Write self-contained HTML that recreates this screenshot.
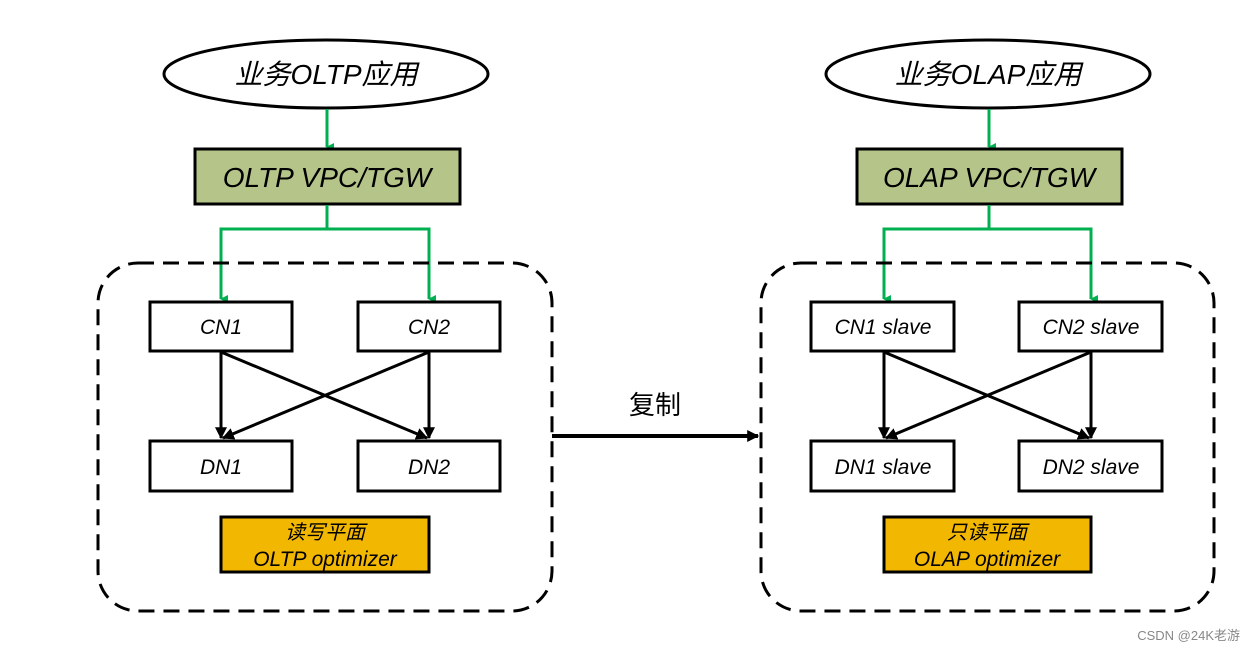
<!DOCTYPE html>
<html><head><meta charset="utf-8"><style>
html,body{margin:0;padding:0;background:#fff;width:1256px;height:651px;overflow:hidden}
svg text{font-family:"Liberation Sans","Noto Sans CJK SC",sans-serif;font-style:italic;fill:#000}
</style></head><body>
<svg width="1256" height="651" viewBox="0 0 1256 651" xmlns="http://www.w3.org/2000/svg">
<defs>
<marker id="g" markerWidth="8" markerHeight="8" refX="4" refY="7" orient="auto" markerUnits="userSpaceOnUse" viewBox="0 0 8 8"><path d="M0,0 L8,0 L4,8 z" fill="#00b050"/></marker>
<marker id="k" viewBox="0 0 10 10" refX="9" refY="5" markerWidth="12" markerHeight="12" orient="auto" markerUnits="userSpaceOnUse"><path d="M0,0 L10,5 L0,10 z" fill="#000"/></marker>
</defs>
<g id="L">
<ellipse cx="326" cy="74" rx="162" ry="34" fill="#fff" stroke="#000" stroke-width="3"/>
<text x="326" y="84" font-size="28" text-anchor="middle">业务OLTP应用</text>
<line x1="327" y1="109" x2="327" y2="147" stroke="#00b050" stroke-width="3" marker-end="url(#g)"/>
<rect x="195" y="149" width="265" height="55" fill="#b5c489" stroke="#000" stroke-width="3"/>
<text x="327" y="187" font-size="28" text-anchor="middle">OLTP VPC/TGW</text>
<polyline points="327,205 327,229 221,229 221,299" fill="none" stroke="#00b050" stroke-width="3" marker-end="url(#g)"/>
<polyline points="327,229 429,229 429,299" fill="none" stroke="#00b050" stroke-width="3" marker-end="url(#g)"/>
<rect x="98" y="263" width="454" height="348" rx="40" fill="none" stroke="#000" stroke-width="3" stroke-dasharray="16,9"/>
<rect x="150" y="302" width="142" height="49" fill="#fff" stroke="#000" stroke-width="3"/>
<text x="221" y="334" font-size="21" text-anchor="middle">CN1</text>
<rect x="358" y="302" width="142" height="49" fill="#fff" stroke="#000" stroke-width="3"/>
<text x="429" y="334" font-size="21" text-anchor="middle">CN2</text>
<g stroke="#000" stroke-width="3">
<line x1="221" y1="352" x2="221" y2="438" marker-end="url(#k)"/>
<line x1="429" y1="352" x2="429" y2="438" marker-end="url(#k)"/>
<line x1="221" y1="352" x2="427" y2="438" marker-end="url(#k)"/>
<line x1="429" y1="352" x2="223" y2="438" marker-end="url(#k)"/>
</g>
<rect x="150" y="441" width="142" height="50" fill="#fff" stroke="#000" stroke-width="3"/>
<text x="221" y="474" font-size="21" text-anchor="middle">DN1</text>
<rect x="358" y="441" width="142" height="50" fill="#fff" stroke="#000" stroke-width="3"/>
<text x="429" y="474" font-size="21" text-anchor="middle">DN2</text>
<rect x="221" y="517" width="208" height="55" fill="#f2b700" stroke="#000" stroke-width="3"/>
<text x="325" y="539" font-size="20" text-anchor="middle">读写平面</text>
<text x="325" y="566" font-size="21" text-anchor="middle">OLTP optimizer</text>
</g>

<ellipse cx="988" cy="74" rx="162" ry="34" fill="#fff" stroke="#000" stroke-width="3"/>
<text x="988" y="84" font-size="28" text-anchor="middle">业务OLAP应用</text>
<line x1="989" y1="109" x2="989" y2="147" stroke="#00b050" stroke-width="3" marker-end="url(#g)"/>
<rect x="857" y="149" width="265" height="55" fill="#b5c489" stroke="#000" stroke-width="3"/>
<text x="989" y="187" font-size="28" text-anchor="middle">OLAP VPC/TGW</text>
<polyline points="989,205 989,229 884,229 884,299" fill="none" stroke="#00b050" stroke-width="3" marker-end="url(#g)"/>
<polyline points="989,229 1091,229 1091,299" fill="none" stroke="#00b050" stroke-width="3" marker-end="url(#g)"/>
<rect x="761" y="263" width="453" height="348" rx="40" fill="none" stroke="#000" stroke-width="3" stroke-dasharray="16,9"/>
<rect x="811" y="302" width="143" height="49" fill="#fff" stroke="#000" stroke-width="3"/>
<text x="883" y="334" font-size="21" text-anchor="middle">CN1 slave</text>
<rect x="1019" y="302" width="143" height="49" fill="#fff" stroke="#000" stroke-width="3"/>
<text x="1091" y="334" font-size="21" text-anchor="middle">CN2 slave</text>
<g stroke="#000" stroke-width="3">
<line x1="884" y1="352" x2="884" y2="438" marker-end="url(#k)"/>
<line x1="1091" y1="352" x2="1091" y2="438" marker-end="url(#k)"/>
<line x1="884" y1="352" x2="1089" y2="438" marker-end="url(#k)"/>
<line x1="1091" y1="352" x2="886" y2="438" marker-end="url(#k)"/>
</g>
<rect x="811" y="441" width="143" height="50" fill="#fff" stroke="#000" stroke-width="3"/>
<text x="883" y="474" font-size="21" text-anchor="middle">DN1 slave</text>
<rect x="1019" y="441" width="143" height="50" fill="#fff" stroke="#000" stroke-width="3"/>
<text x="1091" y="474" font-size="21" text-anchor="middle">DN2 slave</text>
<rect x="884" y="517" width="207" height="55" fill="#f2b700" stroke="#000" stroke-width="3"/>
<text x="987" y="539" font-size="20" text-anchor="middle">只读平面</text>
<text x="987" y="566" font-size="21" text-anchor="middle">OLAP optimizer</text>

<line x1="552" y1="436" x2="758" y2="436" stroke="#000" stroke-width="4" marker-end="url(#k)"/>
<text x="655" y="414" font-size="26" text-anchor="middle" style="font-style:normal">复制</text>
<text x="1240" y="640" font-size="13" text-anchor="end" style="font-style:normal;fill:#888">CSDN @24K老游</text>
</svg>
</body></html>
